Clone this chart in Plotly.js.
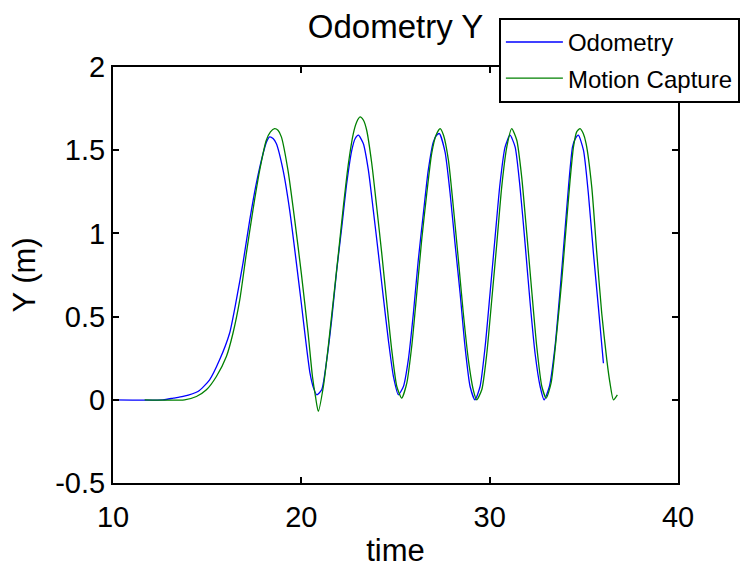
<!DOCTYPE html>
<html>
<head>
<meta charset="utf-8">
<script src="https://cdn.plot.ly/plotly-3.0.1.min.js"></script>
<style>html,body{margin:0;padding:0;background:#fff;}#chart{width:743px;height:568px;}</style>
</head>
<body>
<div id="chart"></div>
<script>
// Odometry (blue)
const odomT = [10, 12.65, 13.2, 13.72, 14.51, 15.13, 15.66, 16.19, 16.55, 16.9, 17.26, 17.61, 17.97, 18.15, 18.32, 18.5, 18.67, 19.03, 19.38, 19.74, 20.0, 20.25, 20.46, 20.65, 20.82, 21.08, 21.35, 21.61, 21.88, 22.15, 22.41, 22.68, 22.86, 23.03, 23.29, 23.56, 23.82, 24.09, 24.35, 24.62, 24.89, 25.15, 25.42, 25.68, 25.95, 26.21, 26.48, 26.74, 27.01, 27.18, 27.33, 27.63, 27.9, 28.16, 28.43, 28.69, 28.96, 29.22, 29.49, 29.76, 30.02, 30.29, 30.55, 30.82, 31.08, 31.35, 31.61, 31.88, 32.15, 32.41, 32.68, 32.89, 33.17, 33.47, 33.74, 34.0, 34.2, 34.4, 34.55, 34.71, 34.98, 35.24, 35.51, 35.77, 36.04];
const odomY = [0, 0, 0.01, 0.02, 0.05, 0.12, 0.24, 0.40, 0.60, 0.82, 1.08, 1.30, 1.48, 1.55, 1.58, 1.57, 1.54, 1.38, 1.14, 0.82, 0.58, 0.34, 0.16, 0.07, 0.03, 0.06, 0.24, 0.48, 0.78, 1.04, 1.30, 1.50, 1.57, 1.59, 1.54, 1.38, 1.14, 0.88, 0.62, 0.36, 0.14, 0.03, 0.08, 0.24, 0.52, 0.84, 1.12, 1.38, 1.55, 1.59, 1.60, 1.49, 1.24, 0.94, 0.64, 0.32, 0.08, 0.0, 0.08, 0.32, 0.64, 0.98, 1.30, 1.52, 1.59, 1.52, 1.28, 0.94, 0.58, 0.28, 0.08, 0.0, 0.08, 0.32, 0.66, 1.02, 1.30, 1.52, 1.57, 1.59, 1.50, 1.24, 0.88, 0.56, 0.22];
// Motion capture (green)
const mocapT = [11.68, 13.8, 14.43, 14.96, 15.49, 16.02, 16.37, 16.73, 17.08, 17.43, 17.79, 18.14, 18.36, 18.58, 18.76, 18.94, 19.29, 19.65, 20.0, 20.36, 20.59, 20.75, 20.9, 21.17, 21.43, 21.7, 21.97, 22.23, 22.5, 22.76, 22.94, 23.12, 23.3, 23.47, 23.74, 24.0, 24.27, 24.54, 24.8, 25.07, 25.33, 25.6, 25.86, 26.13, 26.39, 26.66, 26.92, 27.15, 27.37, 27.55, 27.81, 28.07, 28.34, 28.6, 28.87, 29.13, 29.31, 29.58, 29.85, 30.11, 30.38, 30.64, 30.91, 31.17, 31.44, 31.7, 31.97, 32.23, 32.5, 32.77, 33.0, 33.26, 33.56, 33.83, 34.09, 34.27, 34.45, 34.62, 34.8, 34.97, 35.12, 35.42, 35.69, 35.95, 36.22, 36.39, 36.57, 36.78];
const mocapY = [0, 0, 0.02, 0.06, 0.14, 0.26, 0.40, 0.60, 0.88, 1.14, 1.38, 1.56, 1.61, 1.63, 1.62, 1.58, 1.38, 1.08, 0.76, 0.40, 0.14, 0.02, -0.07, 0.08, 0.32, 0.60, 0.88, 1.16, 1.42, 1.60, 1.67, 1.70, 1.68, 1.62, 1.42, 1.16, 0.88, 0.58, 0.30, 0.08, 0.01, 0.10, 0.32, 0.64, 0.96, 1.24, 1.48, 1.59, 1.63, 1.59, 1.44, 1.16, 0.84, 0.52, 0.24, 0.06, 0.0, 0.06, 0.28, 0.60, 0.94, 1.28, 1.52, 1.63, 1.56, 1.34, 1.00, 0.66, 0.32, 0.08, 0.01, 0.10, 0.40, 0.72, 1.08, 1.32, 1.52, 1.61, 1.63, 1.60, 1.54, 1.28, 0.88, 0.52, 0.24, 0.10, 0.0, 0.03];

const xTickVals = [10, 20, 30, 40];
const xTickText = ["10", "20", "30", "40"];
const yTickVals = [-0.5, 0, 0.5, 1, 1.5, 2];
const yTickText = ["-0.5", "0", "0.5", "1", "1.5", "2"];
const seriesNames = ["Odometry", "Motion Capture"];

const FONT = "Liberation Sans, Arial, sans-serif";

const traces = [
  {x: odomT, y: odomY, type: "scatter", mode: "lines", name: seriesNames[0], legendgroup: "a",
   line: {color: "#0000ff", width: 1.3, shape: "spline", smoothing: 0.6}},
  {x: mocapT, y: mocapY, type: "scatter", mode: "lines", name: seriesNames[1], legendgroup: "b",
   line: {color: "#008000", width: 1.3, shape: "spline", smoothing: 0.6}}
];

const axisCommon = {
  showline: true, linecolor: "#000", linewidth: 2, mirror: "ticks",
  ticks: "inside", ticklen: 6, tickwidth: 2, tickcolor: "#000",
  showgrid: false, zeroline: false,
  tickfont: {family: FONT, size: 29, color: "#000"}
};

const layout = {
  width: 743, height: 568,
  paper_bgcolor: "#fff", plot_bgcolor: "#fff",
  margin: {l: 113, r: 65, t: 67, b: 85, autoexpand: false},
  showlegend: true,
  title: {text: "Odometry Y", font: {family: FONT, size: 33, color: "#000"},
          xref: "paper", x: 0.5, xanchor: "center", yref: "container", y: 0.953, yanchor: "middle"},
  xaxis: Object.assign({}, axisCommon, {
    range: [10, 40], tickvals: xTickVals, ticktext: xTickText, ticklabelstandoff: 7,
    title: {text: "time", font: {family: FONT, size: 31, color: "#000"}, standoff: 10}
  }),
  yaxis: Object.assign({}, axisCommon, {
    range: [-0.5, 2], tickvals: yTickVals, ticktext: yTickText,
    title: {text: "Y (m)", font: {family: FONT, size: 31, color: "#000"}, standoff: 10}
  }),
  legend: {
    x: 0.683, xref: "paper", xanchor: "left", y: 1.118, yref: "paper", yanchor: "top",
    bgcolor: "#fff", bordercolor: "#000", borderwidth: 2,
    font: {family: FONT, size: 24, color: "#000"},
    tracegroupgap: 2, itemwidth: 57
  }
};

Plotly.newPlot("chart", traces, layout, {displayModeBar: false, staticPlot: true});
</script>
</body>
</html>
